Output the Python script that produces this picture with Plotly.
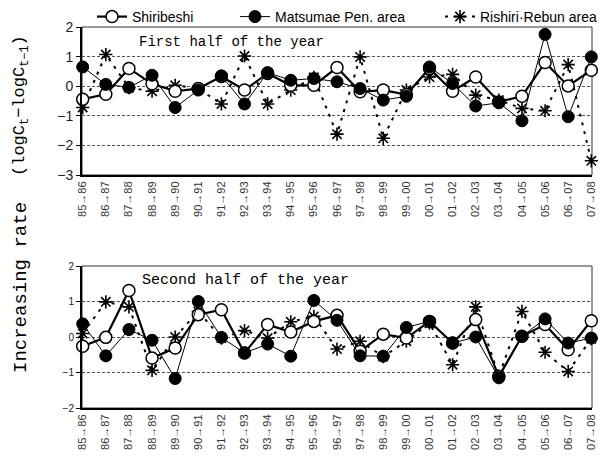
import plotly.graph_objects as go
from plotly.subplots import make_subplots

periods = ["85→86","86→87","87→88","88→89","89→90","90→91","91→92","92→93","93→94","94→95",
           "95→96","96→97","97→98","98→99","99→00","00→01","01→02","02→03","03→04","04→05",
           "05→06","06→07","07→08"]

# First half of the year
shiri_1 = [-0.44,-0.27,0.60,0.08,-0.17,-0.08,0.33,-0.13,0.43,0.03,0.03,0.63,-0.19,-0.13,-0.28,0.60,-0.17,0.31,-0.53,-0.34,0.80,0.01,0.54]
matsu_1 = [0.65,0.06,-0.04,0.37,-0.72,-0.13,0.35,-0.60,0.46,0.20,0.26,0.15,-0.08,-0.47,-0.34,0.65,0.09,-0.67,-0.56,-1.17,1.75,-1.03,0.99]
rishi_1 = [-0.72,1.07,-0.05,-0.17,0.03,-0.08,-0.60,1.02,-0.60,-0.13,0.30,-1.62,0.99,-1.76,-0.13,0.31,0.40,-0.30,-0.47,-0.75,-0.83,0.73,-2.52]

# Second half of the year
shiri_2 = [-0.26,-0.01,1.31,-0.59,-0.31,0.63,0.77,-0.45,0.35,0.14,0.44,0.61,-0.40,0.08,-0.03,0.44,-0.17,0.49,-1.11,0.02,0.35,-0.36,0.46]
matsu_2 = [0.37,-0.53,0.21,-0.09,-1.17,1.00,-0.01,-0.45,-0.20,-0.54,1.03,0.47,-0.53,-0.54,0.27,0.44,-0.17,0.00,-1.15,0.02,0.51,-0.17,-0.03]
rishi_2 = [0.10,0.99,0.85,-0.94,0.00,0.72,-0.03,0.18,-0.03,0.43,0.58,-0.34,-0.12,-0.55,-0.12,0.39,-0.78,0.85,-1.10,0.72,-0.43,-0.97,-0.05]

names = ["Shiribeshi", "Matsumae Pen. area", "Rishiri·Rebun area"]

W, H = 603, 470
ML, MR, MT, MB = 82, 11, 27, 62
pw = W - ML - MR
ph = H - MT - MB

fig = make_subplots(rows=2, cols=1, vertical_spacing=0.0)

def add_panel(row, s, m, r, show):
    fig.add_trace(go.Scatter(x=periods, y=r, name=names[2], mode="lines+markers",
                             line=dict(color="black", width=2, dash="3px,6px"),
                             marker=dict(symbol="asterisk-open", size=11, color="black",
                                         line=dict(color="black", width=1.6)),
                             cliponaxis=False, showlegend=show, legend="legend3"), row=row, col=1)
    fig.add_trace(go.Scatter(x=periods, y=s, name=names[0], mode="lines+markers",
                             line=dict(color="black", width=2.2),
                             marker=dict(symbol="circle", size=12, color="white",
                                         line=dict(color="black", width=1.5)),
                             cliponaxis=False, showlegend=show, legend="legend"), row=row, col=1)
    fig.add_trace(go.Scatter(x=periods, y=m, name=names[1], mode="lines+markers",
                             line=dict(color="black", width=1),
                             marker=dict(symbol="circle", size=12, color="black",
                                         line=dict(color="black", width=1)),
                             cliponaxis=False, showlegend=show, legend="legend2"), row=row, col=1)

add_panel(1, shiri_1, matsu_1, rishi_1, True)
add_panel(2, shiri_2, matsu_2, rishi_2, False)

def px_x(x):
    return (x - ML) / pw

def px_y(y):
    return 1 - (y - MT) / ph

top_dom = [px_y(175), 1.0]
bot_dom = [0.0, px_y(266)]

xcommon = dict(type="category", range=[-0.03, 22.03], tickangle=-90, showgrid=False,
               tickfont=dict(family="Liberation Sans, Arial", size=11, color="#333"),
               showline=True, linecolor="black", linewidth=2, mirror=False, ticks="",
               zeroline=False)
fig.update_xaxes(**xcommon, row=1, col=1)
fig.update_xaxes(**xcommon, row=2, col=1)

fig.update_yaxes(domain=top_dom, range=[-3, 2], tickvals=[2,1,0,-1,-2,-3], row=1, col=1,
                 tickfont=dict(family="Liberation Sans, Arial", size=14, color="#222"))
fig.update_yaxes(domain=bot_dom, range=[-2, 2], tickvals=[2,1,0,-1,-2], row=2, col=1,
                 tickfont=dict(family="Liberation Sans, Arial", size=10, color="#222"))
fig.update_yaxes(showline=True, linecolor="black", linewidth=2, ticks="outside", ticklen=4,
                 tickcolor="black", showgrid=True, gridcolor="#555", griddash="3px,2px",
                 gridwidth=1, zeroline=False)

# thin frame (top and right)
for xr, yr in [("x domain", "y domain"), ("x2 domain", "y2 domain")]:
    fig.add_shape(type="rect", xref=xr, yref=yr, x0=0, x1=1, y0=0, y1=1,
                  line=dict(color="#333", width=1), layer="below")

fig.add_annotation(text="First half of the year", xref="paper", yref="paper",
                   x=px_x(137), y=px_y(42), xanchor="left", yanchor="middle",
                   showarrow=False, font=dict(family="Liberation Mono, DejaVu Sans Mono", size=14, color="black"))
fig.add_annotation(text="Second half of the year", xref="paper", yref="paper",
                   x=px_x(140), y=px_y(280), xanchor="left", yanchor="middle",
                   showarrow=False, font=dict(family="Liberation Mono, DejaVu Sans Mono", size=15, color="black"))

fig.add_annotation(text="Increasing rate", xref="paper", yref="paper",
                   x=px_x(21), y=px_y(288), xanchor="center", yanchor="middle",
                   textangle=-90, showarrow=False,
                   font=dict(family="Liberation Mono, DejaVu Sans Mono", size=19, color="black"))
fig.add_annotation(text="(logC<sub>t</sub>−logC<sub>t−1</sub>)", xref="paper", yref="paper",
                   x=px_x(21), y=px_y(106), xanchor="center", yanchor="middle",
                   textangle=-90, showarrow=False,
                   font=dict(family="Liberation Mono, DejaVu Sans Mono", size=17, color="black"))

leg_common = dict(orientation="h", xanchor="left", yanchor="top", y=px_y(1),
                  font=dict(family="Liberation Sans, Arial", size=14, color="black"),
                  bgcolor="rgba(0,0,0,0)", borderwidth=0)

fig.update_layout(width=W, height=H, margin=dict(l=ML, r=MR, t=MT, b=MB, autoexpand=False),
                  paper_bgcolor="white", plot_bgcolor="white",
                  legend=dict(x=px_x(92), **leg_common),
                  legend2=dict(x=px_x(235), **leg_common),
                  legend3=dict(x=px_x(440), **leg_common))

fig.write_html("out.html", config={"displayModeBar": False},
               post_script="document.body.style.margin='0';")
